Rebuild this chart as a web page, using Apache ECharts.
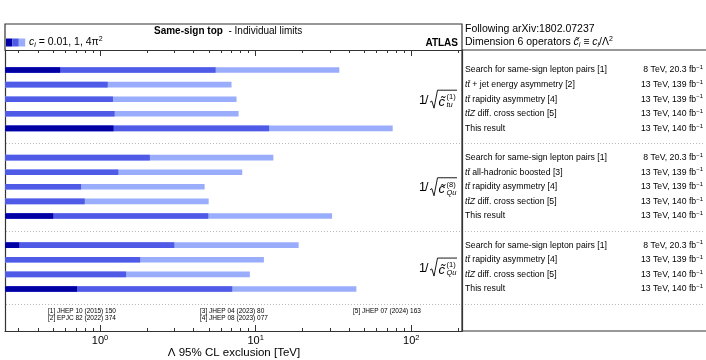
<!DOCTYPE html>
<html>
<head>
<meta charset="utf-8">
<script src="https://cdn.jsdelivr.net/npm/echarts@6/dist/echarts.min.js"></script>
<style>
html, body {margin: 0; padding: 0; background: #fff;}
#chart {width: 706px; height: 360px;}
</style>
</head>
<body>
<div id="chart"></div>
<script>
// one slot per row, slots 5 and 11 are the gaps between operator blocks
const rowSlots = [0, 1, 2, 3, 4, 6, 7, 8, 9, 10, 12, 13, 14, 15];
const rowNames = [
    'Search for same-sign lepton pairs [1]',
    '{i|tt̄} + jet energy asymmetry [2]',
    '{i|tt̄} rapidity asymmetry [4]',
    '{i|tt̄Z} diff. cross section [5]',
    'This result',
    'Search for same-sign lepton pairs [1]',
    '{i|tt̄} all-hadronic boosted [3]',
    '{i|tt̄} rapidity asymmetry [4]',
    '{i|tt̄Z} diff. cross section [5]',
    'This result',
    'Search for same-sign lepton pairs [1]',
    '{i|tt̄} rapidity asymmetry [4]',
    '{i|tt̄Z} diff. cross section [5]',
    'This result'
];
const rowEnergy = [
    '8 TeV, 20.3 fb{s|−1}', '13 TeV, 139 fb{s|−1}', '13 TeV, 139 fb{s|−1}', '13 TeV, 140 fb{s|−1}', '13 TeV, 140 fb{s|−1}',
    '8 TeV, 20.3 fb{s|−1}', '13 TeV, 139 fb{s|−1}', '13 TeV, 139 fb{s|−1}', '13 TeV, 140 fb{s|−1}', '13 TeV, 140 fb{s|−1}',
    '8 TeV, 20.3 fb{s|−1}', '13 TeV, 139 fb{s|−1}', '13 TeV, 140 fb{s|−1}', '13 TeV, 140 fb{s|−1}'
];
// Lambda limits [TeV] for c_i = 0.01, 1, 4pi^2 (null = below the axis range)
const limitC001 = [0.554, null, null, null, 1.22, null, null, null, null, 0.50, 0.302, null, null, 0.711];
const limitC1 = [5.53, 1.12, 1.21, 1.24, 12.2, 2.09, 1.31, 0.755, 0.797, 4.96, 3.0, 1.81, 1.47, 7.07];
const limitC4pi2 = [34.5, 7.0, 7.54, 7.77, 76.0, 13.0, 8.2, 4.7, 4.99, 31.0, 18.9, 11.3, 9.18, 44.4];
const separatorSlots = [5, 11, 16];
const operatorSup = ['(1)', '(8)', '(1)'];
const operatorSub = ['tu', 'Qu', 'Qu'];
const operatorSlot = [2, 8, 13.5];
const majorTicks = [1, 10, 100];
const minorTicks = [0.3, 0.4, 0.5, 0.6, 0.7, 0.8, 0.9, 2, 3, 4, 5, 6, 7, 8, 9, 20, 30, 40, 50, 60, 70, 80, 90, 200];
const refsLeft = ['[1] JHEP 10 (2015) 150', '[2] EPJC 82 (2022) 374'];
const refsMid = ['[3] JHEP 04 (2023) 80', '[4] JHEP 08 (2023) 077'];
const refsRight = ['[5] JHEP 07 (2024) 163'];

const X_MIN = 0.245, X_MAX = 212;
const colors = ['#0000a3', '#4f5ae6', '#9aacfc'];
const FONT = '"Liberation Sans", Arial, sans-serif';
const LINE = '#333';

let chart = echarts.init(document.getElementById('chart'));

let barSeries = (name, values, color) => ({
    type: 'custom',
    name: name,
    xAxisIndex: 0,
    yAxisIndex: 0,
    data: values.map((v, i) => [v, rowSlots[i]]).filter(d => d[0] != null),
    renderItem: (params, api) => {
        let start = api.coord([X_MIN, api.value(1)]);
        let end = api.coord([api.value(0), api.value(1)]);
        let h = 5.6;
        return {
            type: 'rect',
            shape: {x: start[0], y: start[1] - h / 2, width: end[0] - start[0], height: h},
            style: {fill: color}
        };
    }
});

let tickLabel = (v) => '{b|10}{s|' + Math.round(Math.log10(v)) + '}';

let logAxis = (extra) => Object.assign({
    type: 'log',
    min: X_MIN,
    max: X_MAX,
    splitLine: {show: false},
    axisLine: {show: true, onZero: false, lineStyle: {color: LINE, width: 1.2}},
    axisLabel: {show: false},
    axisTick: {show: false}
}, extra);

let valueY = (pos) => ({
    type: 'value',
    position: pos,
    inverse: true,
    min: -1.37,
    max: 17.88,
    splitLine: {show: false},
    axisLabel: {show: false},
    axisTick: {show: false},
    axisLine: {show: true, onZero: false, lineStyle: {color: LINE, width: 1.2}}
});

let option = {
    animation: false,
    textStyle: {fontFamily: FONT},
    grid: {left: 5, right: 244, top: 50, bottom: 29, containLabel: false, outerBoundsMode: 'none'},
    xAxis: [
        logAxis({
            position: 'bottom',
            axisTick: {show: true, inside: true, length: 6, customValues: majorTicks, lineStyle: {color: LINE}},
            axisLabel: {
                show: true, margin: 3, customValues: majorTicks, formatter: tickLabel,
                rich: {
                    b: {fontSize: 11, color: '#000', fontFamily: FONT, lineHeight: 13},
                    s: {fontSize: 7.5, color: '#000', fontFamily: FONT, verticalAlign: 'top', lineHeight: 8}
                }
            }
        }),
        logAxis({
            position: 'bottom',
            axisLine: {show: false, onZero: false},
            axisTick: {show: true, inside: true, length: 3, customValues: minorTicks, lineStyle: {color: LINE}}
        }),
        logAxis({
            position: 'top',
            axisTick: {show: true, inside: true, length: 6, customValues: majorTicks, lineStyle: {color: LINE}}
        }),
        logAxis({
            position: 'top',
            axisLine: {show: false, onZero: false},
            axisTick: {show: true, inside: true, length: 3, customValues: minorTicks, lineStyle: {color: LINE}}
        })
    ],
    yAxis: [valueY('left'), valueY('right')],
    series: [
        barSeries('c = 4pi^2', limitC4pi2, colors[2]),
        barSeries('c = 1', limitC1, colors[1]),
        barSeries('c = 0.01', limitC001, colors[0])
    ]
};
chart.setOption(option);

// annotations placed from the axis scales
let yPix = (slot) => chart.convertToPixel({yAxisIndex: 0}, slot);
let smallRich = {
    i: {fontStyle: 'italic', fontSize: 8.7, fontFamily: FONT, color: '#000', lineHeight: 11},
    s: {fontSize: 6, fontFamily: FONT, color: '#000', verticalAlign: 'top', lineHeight: 6}
};
let headRich = {
    b: {fontWeight: 'bold', fontSize: 10, fontFamily: FONT, color: '#000'},
    n: {fontSize: 10, fontFamily: FONT, color: '#000'},
    i: {fontStyle: 'italic', fontSize: 10.5, fontFamily: FONT, color: '#000', lineHeight: 13},
    sub: {fontStyle: 'italic', fontSize: 7, fontFamily: FONT, color: '#000', verticalAlign: 'bottom', lineHeight: 7},
    sup: {fontSize: 7, fontFamily: FONT, color: '#000', verticalAlign: 'top', lineHeight: 7}
};
let txt = (x, y, text, size, align, rich, extra) => ({
    type: 'text', x: x, y: y, silent: true,
    style: Object.assign({text: text, fontSize: size, fontFamily: FONT, fill: '#000', align: align || 'left', verticalAlign: 'middle', rich: rich, lineHeight: size + 2}, extra || {})
});

let graphics = [];
// frames
graphics.push({type: 'polyline', shape: {points: [[5, 50], [5, 24], [462, 24], [462, 331]]}, style: {stroke: LINE, lineWidth: 1.2, fill: null}});
graphics.push({type: 'polyline', shape: {points: [[462, 50], [706, 50]]}, style: {stroke: LINE, lineWidth: 1.2}});
graphics.push({type: 'polyline', shape: {points: [[462, 331], [706, 331]]}, style: {stroke: LINE, lineWidth: 1.2}});
// separators
separatorSlots.forEach(s => {
    let y = Math.round(yPix(s)) + 0.5;
    graphics.push({type: 'line', shape: {x1: 6, y1: y, x2: 705, y2: y}, style: {stroke: '#b8b8b8', lineWidth: 1, lineDash: [1, 2]}});
});
// header
graphics.push(txt(154, 31, '{b|Same-sign top}{n|  - Individual limits}', 10, 'left', headRich));
graphics.push(txt(458, 43, 'ATLAS', 10, 'right', null, {fontWeight: 'bold'}));
colors.forEach((c, k) => {
    graphics.push({type: 'rect', shape: {x: 6 + k * 6.4, y: 38.5, width: 6.4, height: 8}, style: {fill: c}});
});
graphics.push(txt(29, 42.5, '{i|c}{sub|i} = 0.01, 1, 4π{sup|2}', 10.5, 'left', headRich));
graphics.push(txt(465, 29.5, 'Following arXiv:1802.07237', 10.5, 'left'));
graphics.push(txt(465, 42.5, 'Dimension 6 operators {i|c̃}{sub|i} ≡ {i|c}{sub|i}/Λ{sup|2}', 10.5, 'left', headRich));
// x axis title
graphics.push(txt(234, 352.5, 'Λ 95% CL exclusion [TeV]', 11.5, 'center'));
// right panel rows
rowSlots.forEach((s, i) => {
    let y = yPix(s);
    graphics.push(txt(465, y, rowNames[i], 8.7, 'left', smallRich));
    graphics.push(txt(703, y, rowEnergy[i], 8.7, 'right', smallRich));
});
// operator labels 1/sqrt(c)
operatorSlot.forEach((s, k) => {
    let yc = yPix(s);
    graphics.push(txt(419, yc + 1, '1', 12.5, 'left'));
    graphics.push(txt(425, yc + 1, '/', 12.5, 'left'));
    graphics.push({type: 'polyline', shape: {points: [[430, yc + 3], [431.8, yc + 1.8], [434, yc + 9], [437.5, yc - 9], [457, yc - 9]]}, style: {stroke: '#000', lineWidth: 0.9, fill: null}});
    graphics.push(txt(438.5, yc + 3, 'c̃', 13, 'left', null, {fontStyle: 'italic'}));
    graphics.push(txt(446.5, yc - 2, operatorSup[k], 7.5, 'left'));
    graphics.push(txt(446.5, yc + 6, operatorSub[k], 7.5, 'left', null, {fontStyle: 'italic'}));
});
// references
refsLeft.forEach((r, i) => graphics.push(txt(48, 311 + i * 7.5, r, 6.5, 'left')));
refsMid.forEach((r, i) => graphics.push(txt(200, 311 + i * 7.5, r, 6.5, 'left')));
refsRight.forEach((r, i) => graphics.push(txt(353, 311 + i * 7.5, r, 6.5, 'left')));

chart.setOption({graphic: graphics});
</script>
</body>
</html>
